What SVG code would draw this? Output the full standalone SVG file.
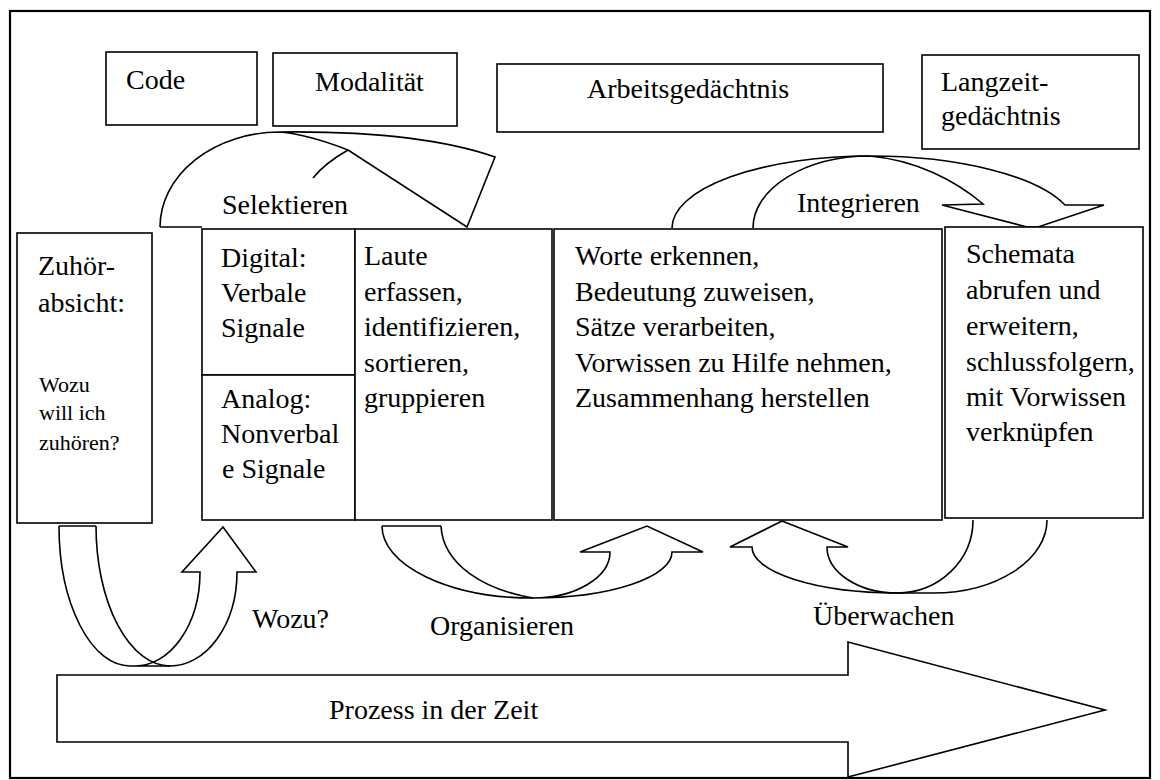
<svg xmlns="http://www.w3.org/2000/svg" width="1160" height="780" viewBox="0 0 1160 780">
<style>
.box{fill:#fff;stroke:#000;stroke-width:1.6}
.ln{fill:none;stroke:#000;stroke-width:1.6;stroke-linejoin:miter}
text{font-family:"Liberation Serif","Times New Roman",serif;font-size:28px;fill:#000}
.sm{font-size:22px}
</style>
<rect x="0" y="0" width="1160" height="780" fill="#fff"/>
<rect id="frame" x="10" y="11" width="1140" height="767" fill="none" stroke="#000" stroke-width="2.2"/>

<g id="code"><rect class="box" x="106" y="52" width="151" height="73"/><text x="126" y="89">Code</text></g>
<g id="modalitaet"><rect class="box" x="273" y="53" width="184" height="73"/><text x="315" y="91">Modalität</text></g>
<g id="arbeitsgedaechtnis"><rect class="box" x="497" y="64" width="386" height="68"/><text x="587" y="98">Arbeitsgedächtnis</text></g>
<g id="langzeitgedaechtnis"><rect class="box" x="922" y="55" width="217" height="94"/><text x="941" y="91">Langzeit-</text><text x="941" y="125">gedächtnis</text></g>

<g id="connectors">
  <g id="selektieren">
    <path class="ln" d="M160,227 L202,227"/>
    <path class="ln" d="M160,227 A120,95 0 0 1 280,132 C370,131 440,138 495,157 L467,227 L348,150 C325,141 303,134 280,132"/>
    <path class="ln" d="M348,150 Q325,163 313,178"/>
    <text x="222" y="214">Selektieren</text>
  </g>
  <g id="integrieren">
    <path class="ln" d="M672,228 A198,72 0 0 1 870,156 A205,72 0 0 1 1065,205 L1104,205 L1038,227 L1027,227 L942,205 L983,204 C955,180 915,160 870,156"/>
    <path class="ln" d="M753,228 A117,72 0 0 1 870,156"/>
    <text x="797" y="212">Integrieren</text>
  </g>
  <g id="wozu">
    <path class="ln" d="M59,526 L96,526"/>
    <path class="ln" d="M59,526 A71,140 0 0 0 130,666 L170,666 A67,94 0 0 0 237,572 L256,572 L223,527 L182,572 L200,572 A65,94 0 0 1 135,666"/>
    <path class="ln" d="M96,526 A74,140 0 0 0 170,666"/>
    <text x="252" y="628">Wozu?</text>
  </g>
  <g id="organisieren">
    <path class="ln" d="M382,526 L441,526"/>
    <path class="ln" d="M382,526 A151,72 0 0 0 533,598 A139,46 0 0 0 672,552 L703,552 L647,526 L580,552 L610,552 A77,46 0 0 1 533,598"/>
    <path class="ln" d="M441,526 C443,565 485,590 533,598"/>
    <text x="430" y="635">Organisieren</text>
  </g>
  <g id="ueberwachen">
    <path class="ln" d="M782,521 L730,547 L752,547 A145,46 0 0 0 897,593 L933,593 A114,73 0 0 0 1047,520"/>
    <path class="ln" d="M782,521 L848,547 L827,547 A70,46 0 0 0 897,593"/>
    <path class="ln" d="M973,520 A76,73 0 0 1 897,593"/>
    <text x="813" y="625">Überwachen</text>
  </g>
</g>

<g id="zuhoerabsicht"><rect class="box" x="17" y="233" width="135" height="290"/>
  <text x="38" y="275">Zuhör-</text><text x="38" y="312">absicht:</text>
  <text class="sm" x="39" y="392">Wozu</text><text class="sm" x="39" y="420">will ich</text><text class="sm" x="39" y="450">zuhören?</text>
</g>
<g id="digital"><rect class="box" x="202" y="229" width="153" height="146"/>
  <text x="221" y="267">Digital:</text><text x="221" y="302">Verbale</text><text x="221" y="337">Signale</text>
</g>
<g id="analog"><rect class="box" x="202" y="375" width="153" height="145"/>
  <text x="221" y="408">Analog:</text><text x="221" y="443">Nonverbal</text><text x="222" y="478">e Signale</text>
</g>
<g id="laute"><rect class="box" x="355" y="229" width="197" height="291"/>
  <text x="364" y="265">Laute</text><text x="364" y="300.5">erfassen,</text><text x="364" y="336">identifizieren,</text><text x="364" y="371.5">sortieren,</text><text x="364" y="407">gruppieren</text>
</g>
<g id="worte"><rect class="box" x="554" y="229" width="388" height="291"/>
  <text x="575" y="265">Worte erkennen,</text><text x="575" y="300.5">Bedeutung zuweisen,</text><text x="575" y="336">Sätze verarbeiten,</text><text x="575" y="371.5">Vorwissen zu Hilfe nehmen,</text><text x="575" y="407">Zusammenhang herstellen</text>
</g>
<g id="schemata"><rect class="box" x="945" y="227" width="198" height="291"/>
  <text x="966" y="263">Schemata</text><text x="966" y="299">abrufen und</text><text x="966" y="335">erweitern,</text><text x="966" y="371">schlussfolgern,</text><text x="966" y="406">mit Vorwissen</text><text x="966" y="441">verknüpfen</text>
</g>

<g id="prozess">
  <path class="box" d="M57,675 L848,675 L848,642 L1105,710 L848,777 L848,742 L57,742 Z"/>
  <text x="329" y="719">Prozess in der Zeit</text>
</g>
</svg>
